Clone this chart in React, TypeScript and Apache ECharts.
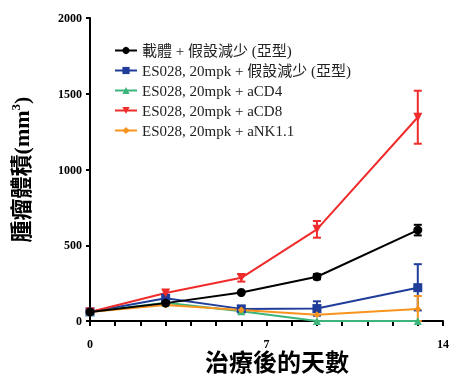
import React, { useEffect, useRef } from "react";
import * as echarts from "echarts";

const days = [0, 3, 6, 9, 13];
const seriesNames = [
  "載體 + 假設減少 (亞型)",
  "ES028, 20mpk + 假設減少 (亞型)",
  "ES028, 20mpk + aCD4",
  "ES028, 20mpk + aCD8",
  "ES028, 20mpk + aNK1.1",
];
const vehicle = [60, 118, 188, 292, 600];
const esSham = [60, 150, 80, 82, 220];
const esCD4 = [60, 120, 65, 0, 0];
const esCD8 = [60, 185, 285, 605, 1345];
const esNK = [60, 105, 72, 42, 80];

// error bars: [day, low, high]
const vehicleErr = [[9, 275, 310], [13, 565, 635]];
const esShamErr = [[9, 35, 130], [13, 70, 375]];
const esCD8Err = [[6, 260, 310], [9, 550, 660], [13, 1170, 1520]];
const esNKErr = [[13, 0, 165]];

const xTickLabels = [0, 7, 14];

const colors = ["#000000", "#1f3d99", "#3bb57a", "#ef2b2b", "#f7941d"];
const symbols = ["circle", "rect", "triangle", "path://M0,0 L10,0 L5,9 Z", "diamond"];
const symbolSizes = [9, 9, 8, 9, 7];
const values = [vehicle, esSham, esCD4, esCD8, esNK];
const errs = [vehicleErr, esShamErr, null, esCD8Err, esNKErr];

const FONT = "'Liberation Serif', 'Noto Sans CJK TC', serif";

export default function App() {
  const ref = useRef<HTMLDivElement>(null);
  useEffect(() => {
    if (!ref.current) return;
    document.body.style.margin = "0";
    document.body.style.overflow = "hidden";
    const chart = echarts.init(ref.current, null, { renderer: "svg" });
    const series: any[] = [];
    values.forEach((v, i) => {
      series.push({
        name: seriesNames[i],
        type: "line",
        data: days.map((d, j) => [d, v[j]]),
        symbol: symbols[i],
        symbolSize: symbolSizes[i],
        itemStyle: { color: colors[i] },
        lineStyle: { color: colors[i], width: 2 },
        z: 3 + (i === 0 ? 1 : 0),
      });
    });
    errs.forEach((e, i) => {
      if (!e) return;
      series.push({
        type: "custom",
        name: seriesNames[i] + "-err",
        data: e,
        z: 2,
        renderItem: (params: any, api: any) => {
          const x = api.value(0);
          const lo = api.coord([x, api.value(1)]);
          const hi = api.coord([x, api.value(2)]);
          const style = { stroke: colors[i], lineWidth: 2 };
          return {
            type: "group",
            children: [
              { type: "line", shape: { x1: lo[0], y1: lo[1], x2: hi[0], y2: hi[1] }, style },
              { type: "line", shape: { x1: hi[0] - 4, y1: hi[1], x2: hi[0] + 4, y2: hi[1] }, style },
              { type: "line", shape: { x1: lo[0] - 4, y1: lo[1], x2: lo[0] + 4, y2: lo[1] }, style },
            ],
          };
        },
      });
    });
    chart.setOption({
      animation: false,
      grid: { left: 90, right: 8, top: 18, bottom: 54 },
      legend: {
        orient: "vertical",
        left: 109,
        top: 38,
        itemGap: 5,
        itemWidth: 22,
        itemHeight: 9,
        data: seriesNames,
        textStyle: { fontFamily: FONT, fontSize: 15, color: "#222" },
      },
      xAxis: {
        type: "value",
        min: 0,
        max: 14,
        interval: 1,
        axisLine: { lineStyle: { color: "#000", width: 2 } },
        axisTick: { length: 5, lineStyle: { color: "#000", width: 2 } },
        splitLine: { show: false },
        axisLabel: {
          formatter: (v: number) => (xTickLabels.indexOf(v) >= 0 ? String(v) : ""),
          fontFamily: FONT,
          fontWeight: "bold",
          fontSize: 12,
          color: "#000",
          margin: 17,
          showMaxLabel: true,
        },
      },
      yAxis: {
        type: "value",
        min: 0,
        max: 2000,
        interval: 500,
        axisLine: { show: true, lineStyle: { color: "#000", width: 2 } },
        axisTick: { show: true, length: 4, lineStyle: { color: "#000", width: 2 } },
        splitLine: { show: false },
        axisLabel: {
          formatter: (v: number) => String(v),
          fontFamily: FONT,
          fontWeight: "bold",
          fontSize: 12,
          color: "#000",
          margin: 8,
        },
        name: "{a|腫瘤體積(mm}{s|3}{a|)}",
        nameLocation: "middle",
        nameGap: 57,
        nameTextStyle: {
          rich: {
            a: { fontFamily: FONT, fontWeight: "bold", fontSize: 22, color: "#000" },
            s: { fontFamily: FONT, fontWeight: "bold", fontSize: 13, color: "#000", verticalAlign: "top", padding: [0, 0, 11, 0] },
          },
        },
      },
      graphic: [
        {
          type: "text",
          left: 205,
          top: 351,
          style: { text: "治療後的天數", fontFamily: FONT, fontWeight: "bold", fontSize: 24, fill: "#000" },
        },
      ],
      series,
    });
    return () => chart.dispose();
  }, []);
  return (
    <div
      ref={ref}
      style={{ position: "fixed", left: 0, top: 0, width: 452, height: 375 }}
    />
  );
}
